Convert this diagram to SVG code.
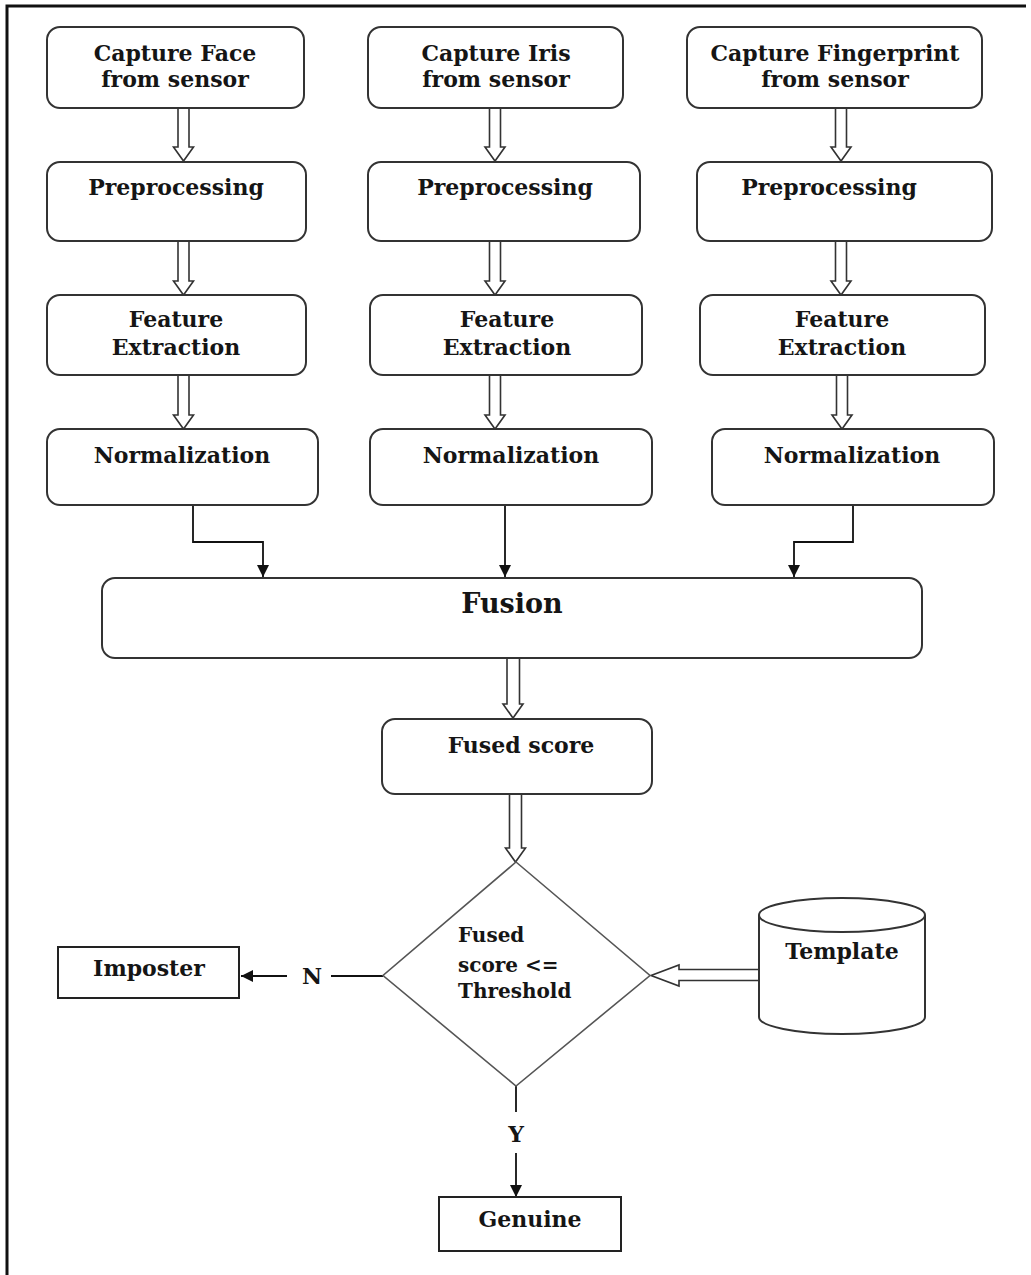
<svg xmlns="http://www.w3.org/2000/svg" xmlns:xlink="http://www.w3.org/1999/xlink" width="1031" height="1275" viewBox="0 0 1031 1275">
<style>
.box{fill:#fff;stroke:#333;stroke-width:2}
.sq{fill:#fff;stroke:#222;stroke-width:2}
.hol{fill:#fff;stroke:#333;stroke-width:1.6}
.ln{fill:none;stroke:#111;stroke-width:1.8}
.dia{fill:#fff;stroke:#555;stroke-width:1.6}
text{font-family:"DejaVu Serif","Liberation Serif",serif;font-weight:bold;fill:#151515;font-size:22px;text-anchor:middle}
.dt{font-size:20px;text-anchor:start}
</style>
<defs>
<marker id="ah" markerUnits="userSpaceOnUse" markerWidth="12" markerHeight="12" viewBox="0 0 12 12" refX="12" refY="6" orient="auto">
<path d="M0,0 L12,6 L0,12 Z" fill="#111"/>
</marker>
<path id="ha" d="M-5.5,-54 V-14 H-10 L0,0 L10,-14 H5.5 V-54"/>
</defs>
<rect width="1031" height="1275" fill="#fff"/>
<g id="frame" fill="none" stroke="#111" stroke-width="3">
<path d="M7,1275 V6 H1026"/>
</g>
<g id="connectors">
<use href="#ha" class="hol" x="183.5" y="161"/>
<use href="#ha" class="hol" x="183.5" y="295"/>
<use href="#ha" class="hol" x="183.5" y="429"/>
<use href="#ha" class="hol" x="495" y="161"/>
<use href="#ha" class="hol" x="495" y="295"/>
<use href="#ha" class="hol" x="495" y="429"/>
<use href="#ha" class="hol" x="841" y="161"/>
<use href="#ha" class="hol" x="841" y="295"/>
<use href="#ha" class="hol" x="842" y="429"/>
<path class="ln" d="M193,505 V542 H263 V577" marker-end="url(#ah)"/>
<path class="ln" d="M505,505 V577" marker-end="url(#ah)"/>
<path class="ln" d="M853,505 V542 H794 V577" marker-end="url(#ah)"/>
<path class="hol" d="M507,658 V704 H503 L513,718 L523,704 H519.5 V658"/>
<path class="hol" d="M509.5,794 V848 H505.5 L515.5,862 L525.5,848 H521.5 V794"/>
<path class="hol" d="M759,969.5 H679 V965 L651,975.5 L679,986 V980.5 H759"/>
<path class="ln" d="M383,976 H331"/>
<path class="ln" d="M287,976 H241" marker-end="url(#ah)"/>
<text x="312" y="984">N</text>
<path class="ln" d="M516,1086 V1112"/>
<path class="ln" d="M516,1153 V1197" marker-end="url(#ah)"/>
<text x="516" y="1142">Y</text>
</g>
<g id="face-capture"><rect class="box" x="47" y="27" width="257" height="81" rx="13"/><text x="175" y="61">Capture Face</text><text x="175" y="87">from sensor</text></g>
<g id="face-pre"><rect class="box" x="47" y="162" width="259" height="79" rx="13"/><text x="176" y="195">Preprocessing</text></g>
<g id="face-fe"><rect class="box" x="47" y="295" width="259" height="80" rx="13"/><text x="176" y="327">Feature</text><text x="176" y="355">Extraction</text></g>
<g id="face-norm"><rect class="box" x="47" y="429" width="271" height="76" rx="13"/><text x="182" y="463">Normalization</text></g>
<g id="iris-capture"><rect class="box" x="368" y="27" width="255" height="81" rx="13"/><text x="496" y="61">Capture Iris</text><text x="496" y="87">from sensor</text></g>
<g id="iris-pre"><rect class="box" x="368" y="162" width="272" height="79" rx="13"/><text x="505" y="195">Preprocessing</text></g>
<g id="iris-fe"><rect class="box" x="370" y="295" width="272" height="80" rx="13"/><text x="507" y="327">Feature</text><text x="507" y="355">Extraction</text></g>
<g id="iris-norm"><rect class="box" x="370" y="429" width="282" height="76" rx="13"/><text x="511" y="463">Normalization</text></g>
<g id="fp-capture"><rect class="box" x="687" y="27" width="295" height="81" rx="13"/><text x="835" y="61">Capture Fingerprint</text><text x="835" y="87">from sensor</text></g>
<g id="fp-pre"><rect class="box" x="697" y="162" width="295" height="79" rx="13"/><text x="829" y="195">Preprocessing</text></g>
<g id="fp-fe"><rect class="box" x="700" y="295" width="285" height="80" rx="13"/><text x="842" y="327">Feature</text><text x="842" y="355">Extraction</text></g>
<g id="fp-norm"><rect class="box" x="712" y="429" width="282" height="76" rx="13"/><text x="852" y="463">Normalization</text></g>
<g id="fusion"><rect class="box" x="102" y="578" width="820" height="80" rx="13"/><text x="512" y="613" style="font-size:27px">Fusion</text></g>
<g id="fused-score"><rect class="box" x="382" y="719" width="270" height="75" rx="13"/><text x="521" y="753">Fused score</text></g>
<g id="decision"><path class="dia" d="M516,862 L650,975.5 L516,1086 L383,975.5 Z"/><text class="dt" x="458" y="942">Fused</text><text class="dt" x="458" y="972">score &lt;=</text><text class="dt" x="458" y="998">Threshold</text></g>
<g id="template"><path class="box" d="M759,915 V1017 A83,17 0 0 0 925,1017 V915"/><ellipse class="box" cx="842" cy="915" rx="83" ry="17"/><text x="842" y="959">Template</text></g>
<g id="imposter"><rect class="sq" x="58" y="947" width="181" height="51"/><text x="149" y="976">Imposter</text></g>
<g id="genuine"><rect class="sq" x="439" y="1197" width="182" height="54"/><text x="530" y="1227">Genuine</text></g>
</svg>
